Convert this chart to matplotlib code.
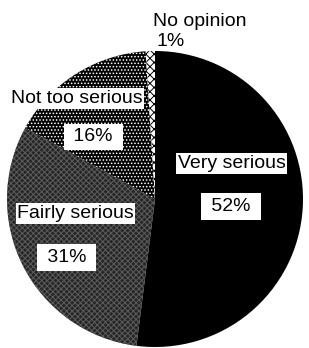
import matplotlib.pyplot as plt

plt.rcParams['font.family'] = ['Liberation Sans', 'DejaVu Sans']
plt.rcParams['hatch.linewidth'] = 0.7

# survey answers, clockwise from 12 o'clock
categories = ['Very serious', 'Fairly serious', 'Not too serious', 'No opinion']
shares = [52, 31, 16, 1]

# look of each wedge: face colour, hatch, hatch colour
faces = ['black', '#262626', 'black', 'white']
hatches = [None, 'xxxxxx', '.....', 'xxxx']
hatch_cols = ['black', '#5c5c5c', 'white', 'black']

# label spots (name box, percent box) in pie-radius units
name_pos = [(0.52, 0.24), (-0.537, -0.098), (-0.53, 0.679), (0.304, 1.196)]
pct_pos = [(0.514, -0.051), (-0.598, -0.395), (-0.416, 0.419), (0.108, 1.064)]

fig = plt.figure(figsize=(3.09, 3.48), dpi=100)
ax = fig.add_axes([0, 0, 1, 1])

wedges, _ = ax.pie(shares, startangle=90, counterclock=False, radius=1.0,
                   colors=faces, wedgeprops=dict(linewidth=0))
for w, h, hc in zip(wedges, hatches, hatch_cols):
    if h:
        w.set_hatch(h)
        w.set_edgecolor(hc)
        w.set_linewidth(0)

box_name = dict(boxstyle='square,pad=0.08', facecolor='white', edgecolor='none')
box_pct = dict(boxstyle='square,pad=0.25', facecolor='white', edgecolor='none')

for i, (cat, val) in enumerate(zip(categories, shares)):
    outside = cat == 'No opinion'
    ax.text(*name_pos[i], cat, ha='center', va='center', fontsize=14,
            bbox=None if outside else box_name)
    pct = f'{val}%' if outside else f' {val}% '
    ax.text(*pct_pos[i], pct, ha='center', va='center', fontsize=14,
            bbox=None if outside else box_pct)

ax.set_xlim(-155 / 148, 154 / 148)
ax.set_ylim(-149 / 148, 199 / 148)
ax.set_aspect('auto')
ax.axis('off')

fig.savefig('out.png', dpi=100, facecolor='white')
